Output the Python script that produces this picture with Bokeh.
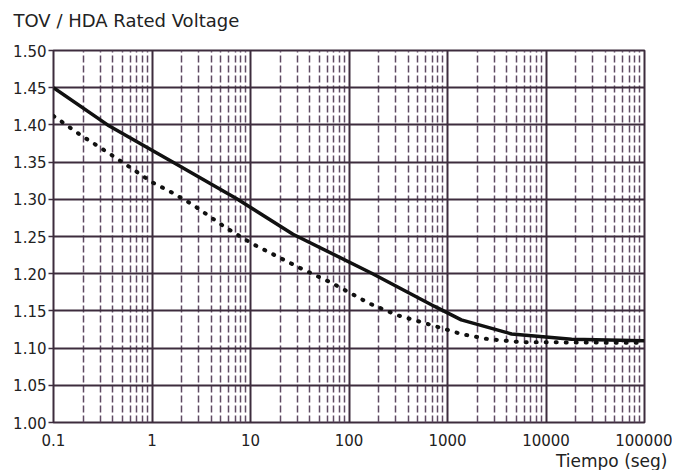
from bokeh.plotting import figure
from bokeh.models import FixedTicker, Title
from bokeh.embed import file_html
from bokeh.resources import INLINE

# Data
t_solid = [0.1, 0.354, 1.62, 7.4, 27, 168, 741, 1380, 4470, 18200, 100000]
v_solid = [1.45, 1.40, 1.35, 1.30, 1.253, 1.201, 1.156, 1.138, 1.119, 1.112, 1.110]

t_dotted = [0.1, 0.19, 0.365, 0.68, 1.0, 1.6, 2.57, 5.6, 10.5, 32.6, 65.8, 161, 313, 684, 1380, 2600, 5600, 100000]
v_dotted = [1.412, 1.386, 1.362, 1.338, 1.323, 1.309, 1.293, 1.262, 1.240, 1.207, 1.188, 1.160, 1.144, 1.131, 1.119, 1.112, 1.108, 1.107]

x_ticks = [0.1, 1, 10, 100, 1000, 10000, 100000]
x_tick_labels = ["0.1", "1", "10", "100", "1000", "10000", "100000"]
y_ticks = [1.00, 1.05, 1.10, 1.15, 1.20, 1.25, 1.30, 1.35, 1.40, 1.45, 1.50]
y_tick_labels = ["1.00", "1.05", "1.10", "1.15", "1.20", "1.25", "1.30", "1.35", "1.40", "1.45", "1.50"]

title_text = "TOV / HDA Rated Voltage"
x_label_text = "Tiempo (seg)"

FONT = "DejaVu Sans"
DARK = "#3d2c3d"

p = figure(width=672, height=470, x_axis_type="log",
           x_range=(0.1, 100000), y_range=(1.0, 1.5),
           output_backend="svg", toolbar_location=None,
           min_border_left=53, min_border_right=28,
           min_border_top=50, min_border_bottom=46,
           background_fill_color="white", border_fill_color="white")

p.title.text = title_text
p.title.text_font = FONT
p.title.text_font_size = "18px"
p.title.text_font_style = "normal"
p.title.text_color = "#222222"
p.title.align = "left"
p.title.offset = -40
p.title.standoff = 0

# spacer between the frame and the title
p.add_layout(Title(text=" ", text_font_size="2px", standoff=16), "above")

p.add_layout(Title(text=x_label_text, text_font=FONT, text_font_size="17px",
                   text_font_style="normal", text_color="#222222",
                   align="right", offset=-23, standoff=0), "below")

minor = [m * d for d in [0.1, 1, 10, 100, 1000, 10000] for m in range(2, 10)]
p.xaxis.ticker = FixedTicker(ticks=x_ticks, minor_ticks=minor)
p.xaxis.major_label_overrides = {t: l for t, l in zip(x_ticks, x_tick_labels)}
p.yaxis.ticker = FixedTicker(ticks=y_ticks)
p.yaxis.major_label_overrides = {t: l for t, l in zip(y_ticks, y_tick_labels)}

for ax in (p.xaxis, p.yaxis):
    ax.axis_line_color = None
    ax.major_label_text_font = FONT
    ax.major_label_text_color = "#222222"
    ax.minor_tick_line_color = None
p.xaxis.major_tick_line_color = None
p.xaxis.major_tick_out = 0
p.xaxis.major_label_text_font_size = "15px"
p.xaxis.major_label_standoff = 7
p.yaxis.major_tick_out = 5
p.yaxis.major_tick_in = 0
p.yaxis.major_tick_line_color = DARK
p.yaxis.major_tick_line_width = 1.5
p.yaxis.major_label_text_font_size = "15px"
p.yaxis.major_label_standoff = 2

p.xgrid.grid_line_color = DARK
p.xgrid.grid_line_width = 2
p.xgrid.minor_grid_line_color = "#5f4a63"
p.xgrid.minor_grid_line_width = 1.5
p.xgrid.minor_grid_line_dash = "7 3"
p.ygrid.grid_line_color = DARK
p.ygrid.grid_line_width = 2
p.outline_line_color = DARK
p.outline_line_width = 2

p.line(t_solid, v_solid, line_color="#111111", line_width=3.5)
p.line(t_dotted, v_dotted, line_color="#111111", line_width=4,
       line_dash="1 9", line_cap="round")

open("out.html", "w").write(file_html(p, INLINE))
